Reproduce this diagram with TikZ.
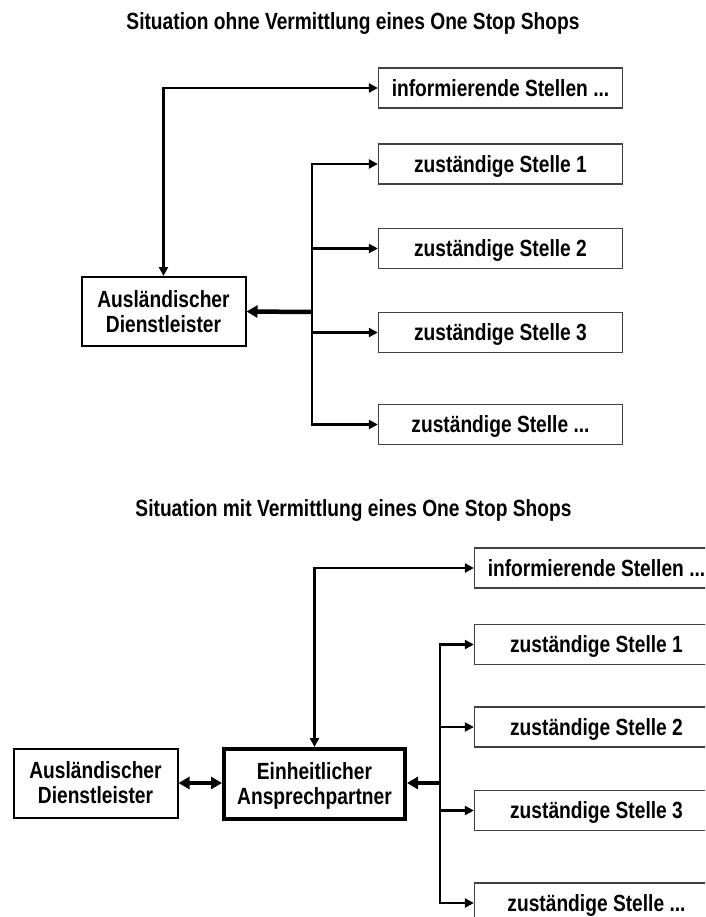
\documentclass[tikz,border=0pt]{standalone}
\usepackage{fontspec}
\newfontfamily\lblfont{Liberation Sans}[FakeStretch=0.82]
\usetikzlibrary{arrows.meta}

\tikzset{
  Head/.tip={Triangle[length=9pt,width=9pt]},
  BigHead/.tip={Triangle[length=11pt,width=12pt]},
  every node/.style={font=\lblfont\bfseries\fontsize{23.4}{25}\selectfont,
                     align=center, inner sep=0pt},
  oneline/.style={text height=16.8pt, text depth=0pt},
  stelle/.style={oneline, draw=black!75, line width=1.3pt,
                 minimum width=244pt, minimum height=40pt},
  actor/.style={draw=black, line width=2pt,
                minimum width=164pt, minimum height=69pt},
  hub/.style={draw=black, line width=4pt,
              minimum width=181pt, minimum height=70pt},
  conn/.style={line width=2.8pt, line join=miter},
  twig/.style={line width=2.1pt},
  heavy/.style={line width=4.5pt}
}

\begin{document}
\begin{tikzpicture}[x=1pt,y=-1pt]
\useasboundingbox (0,0) rectangle (705,917);
\clip (0,0) rectangle (705,917);
\fill[white] (0,0) rectangle (705,917);

% ---------- without a one stop shop ----------
\node[oneline] (titleA) at (353,21.5) {Situation ohne Vermittlung eines One Stop Shops};

\node[stelle] (infA) at (500.5,88)    {informierende Stellen ...};
\node[stelle] (zA1)  at (500.5,164)   {zuständige Stelle 1};
\node[stelle] (zA2)  at (500.5,248.5) {zuständige Stelle 2};
\node[stelle] (zA3)  at (500.5,332.5) {zuständige Stelle 3};
\node[stelle] (zA4)  at (500.5,424.5) {zuständige Stelle ...};
\node[actor]  (ausA) at (163.5,311.5) {Ausländischer\\Dienstleister};
\coordinate (busA) at (312,312);

\draw[conn,{Head}-{Head}] (ausA.north) |- (infA.west);
\draw[conn,{Head}-{Head}] (zA1.west) -| (busA) |- (zA4.west);
\draw[twig,-{Head}] (busA |- zA2.west) -- (zA2.west);
\draw[twig,-{Head}] (busA |- zA3.west) -- (zA3.west);
\draw[heavy,-{BigHead}] (busA) -- (ausA.east);

% ---------- with a one stop shop ----------
\node[oneline] (titleB) at (353.5,508.5) {Situation mit Vermittlung eines One Stop Shops};

\node[stelle] (infB) at (596.5,568)   {informierende Stellen ...};
\node[stelle] (zB1)  at (596.5,644.5) {zuständige Stelle 1};
\node[stelle] (zB2)  at (596.5,727)   {zuständige Stelle 2};
\node[stelle] (zB3)  at (596.5,810.5) {zuständige Stelle 3};
\node[stelle] (zB4)  at (596.5,903)   {zuständige Stelle ...};
\node[actor]  (ausB) at (95.5,783)    {Ausländischer\\Dienstleister};
\node[hub]    (ein)  at (314.5,784)   {Einheitlicher\\\smash{Ansprechpartner}};
\coordinate (busB) at (440,783);

\draw[conn,{Head}-{Head}] (ein.north) |- (infB.west);
\draw[conn,{Head}-{Head}] (zB1.west) -| (busB) |- (zB4.west);
\draw[twig,-{Head}] (busB |- zB2.west) -- (zB2.west);
\draw[twig,-{Head}] (busB |- zB3.west) -- (zB3.west);
\draw[heavy,-{BigHead}] (busB) -- (ein.east |- busB);
\draw[heavy,{BigHead}-{BigHead}] (ausB.east |- busB) -- (ein.west |- busB);
\end{tikzpicture}
\end{document}
